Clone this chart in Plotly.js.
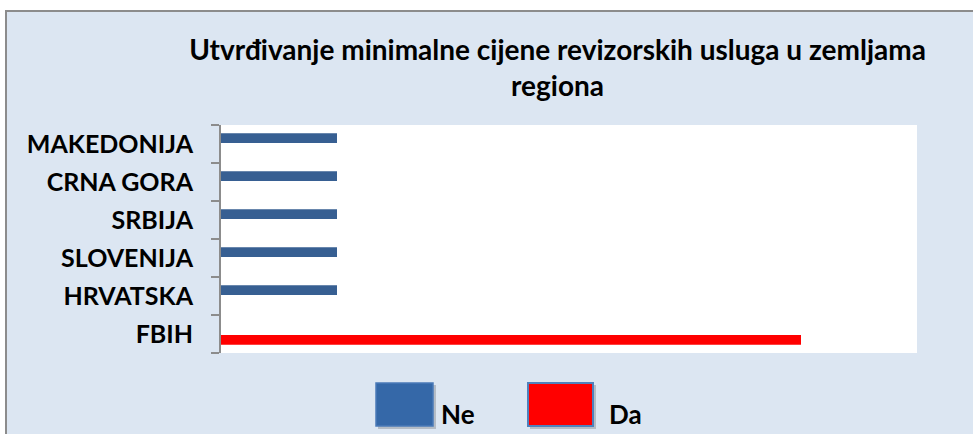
<!DOCTYPE html>
<html>
<head>
<meta charset="utf-8">
<script src="https://cdn.plot.ly/plotly-3.0.1.min.js"></script>
<style>html,body{margin:0;padding:0;background:#fff;}#chart{width:973px;height:434px;}</style>
</head>
<body>
<div id="chart"></div>
<script>
// ---- data ----
const categories = ['FBIH', 'HRVATSKA', 'SLOVENIJA', 'SRBIJA', 'CRNA GORA', 'MAKEDONIJA'];
const neValues = [0, 1, 1, 1, 1, 1];
const daValues = [5, 0, 0, 0, 0, 0];
const seriesNames = ['Ne', 'Da'];
const chartTitle = 'Utvrđivanje minimalne cijene revizorskih usluga u zemljama<br>regiona';

// ---- layout helpers (pixel -> paper) ----
const W = 973, H = 434;
const L = 221, R = 917, T = 125, B = 353;
const px = x => (x - L) / (R - L);
const py = y => (B - y) / (B - T);

const FONT = 'Lato, "Open Sans", sans-serif';
const neColor = '#375f92';
const daColor = '#ff0000';

const traces = [
  {
    type: 'bar', orientation: 'h', name: seriesNames[0],
    y: categories, x: neValues,
    width: 0.26, offset: 0.026,
    marker: {color: neColor, line: {width: 0}},
    hoverinfo: 'x+y+name'
  },
  {
    type: 'bar', orientation: 'h', name: seriesNames[1],
    y: categories, x: daValues,
    width: 0.26, offset: -0.286,
    marker: {color: daColor, line: {width: 0}},
    hoverinfo: 'x+y+name'
  }
];

const shapes = [
  // white outside strips + frame lines
  {type: 'rect', xref: 'paper', yref: 'paper', x0: px(0), x1: px(W + 5), y0: py(0), y1: py(10), fillcolor: '#ffffff', line: {width: 0}},
  {type: 'rect', xref: 'paper', yref: 'paper', x0: px(0), x1: px(5), y0: py(0), y1: py(H + 5), fillcolor: '#ffffff', line: {width: 0}},
  {type: 'line', xref: 'paper', yref: 'paper', x0: px(5), x1: px(W + 5), y0: py(11), y1: py(11), line: {color: '#8c8c8c', width: 2}},
  {type: 'line', xref: 'paper', yref: 'paper', x0: px(6), x1: px(6), y0: py(10), y1: py(H + 5), line: {color: '#8c8c8c', width: 2}},
  // legend swatch shadows
  {type: 'rect', xref: 'paper', yref: 'paper', x0: px(378), x1: px(436), y0: py(385), y1: py(429), fillcolor: 'rgba(0,0,0,0.18)', line: {width: 0}},
  {type: 'rect', xref: 'paper', yref: 'paper', x0: px(530), x1: px(596), y0: py(385), y1: py(429), fillcolor: 'rgba(0,0,0,0.18)', line: {width: 0}},
  // legend swatches
  {type: 'rect', xref: 'paper', yref: 'paper', x0: px(376), x1: px(433), y0: py(383), y1: py(426), fillcolor: '#3568a8', line: {color: '#4a7ab8', width: 1.5}},
  {type: 'rect', xref: 'paper', yref: 'paper', x0: px(528), x1: px(593), y0: py(383), y1: py(426), fillcolor: daColor, line: {color: '#4f81bd', width: 2}}
];

const annotations = [
  {xref: 'paper', yref: 'paper', x: px(439), y: py(414), xanchor: 'left', yanchor: 'middle', text: seriesNames[0], showarrow: false, font: {family: FONT, size: 26, color: '#000', weight: 'bold'}},
  {xref: 'paper', yref: 'paper', x: px(607), y: py(414), xanchor: 'left', yanchor: 'middle', text: seriesNames[1], showarrow: false, font: {family: FONT, size: 26, color: '#000', weight: 'bold'}}
];

const layout = {
  width: W, height: H,
  margin: {l: L, r: W - R, t: T, b: H - B, pad: 0},
  paper_bgcolor: '#dce6f2',
  plot_bgcolor: '#ffffff',
  barmode: 'overlay',
  showlegend: false,
  title: {
    text: chartTitle,
    xref: 'container', yref: 'container',
    x: 557.5 / W, xanchor: 'center',
    y: 1 - 60 / H, yanchor: 'top',
    font: {family: FONT, size: 28, color: '#000', weight: 'bold'}
  },
  xaxis: {
    range: [0, 6], showgrid: false, zeroline: false, showline: false,
    showticklabels: false, ticks: '', fixedrange: true
  },
  yaxis: {
    type: 'category', categoryorder: 'array', categoryarray: categories,
    range: [-0.5, categories.length - 0.5],
    showgrid: false, zeroline: false,
    showline: true, linecolor: '#8c8c8c', linewidth: 2,
    ticks: 'outside', tickson: 'boundaries', ticklen: 8, tickcolor: '#8c8c8c', tickwidth: 1.5,
    ticklabelstandoff: 21,
    tickfont: {family: FONT, size: 25, color: '#000', weight: 'bold'},
    fixedrange: true
  },
  shapes: shapes,
  annotations: annotations
};

Plotly.newPlot('chart', traces, layout, {displayModeBar: false, staticPlot: true});
</script>
</body>
</html>
